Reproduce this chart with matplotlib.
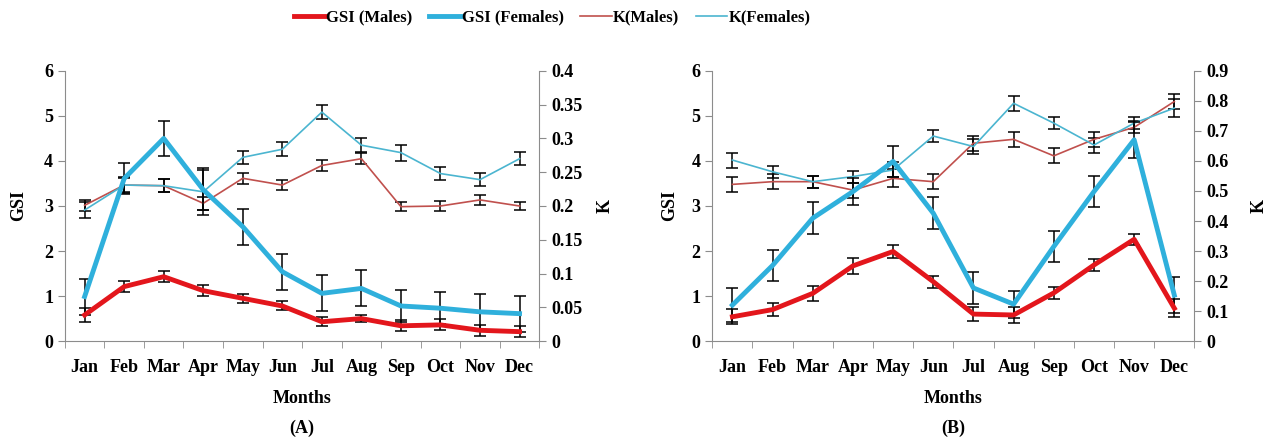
import numpy as np
import matplotlib
matplotlib.use("Agg")
import matplotlib.pyplot as plt
from matplotlib.lines import Line2D

months = ['Jan', 'Feb', 'Mar', 'Apr', 'May', 'Jun', 'Jul', 'Aug', 'Sep', 'Oct', 'Nov', 'Dec']

# Panel A
gsi_m_a = [0.58, 1.21, 1.43, 1.12, 0.95, 0.78, 0.43, 0.50, 0.34, 0.36, 0.24, 0.21]
gsi_m_a_err = [0.15, 0.12, 0.12, 0.12, 0.10, 0.10, 0.10, 0.08, 0.12, 0.12, 0.12, 0.12]
gsi_f_a = [0.99, 3.61, 4.50, 3.36, 2.54, 1.54, 1.06, 1.17, 0.78, 0.73, 0.65, 0.61]
gsi_f_a_err = [0.40, 0.35, 0.38, 0.45, 0.40, 0.40, 0.40, 0.40, 0.35, 0.35, 0.40, 0.40]
k_m_a = [0.201, 0.231, 0.230, 0.204, 0.241, 0.231, 0.260, 0.270, 0.199, 0.200, 0.209, 0.200]
k_m_a_err = [0.008, 0.010, 0.010, 0.010, 0.008, 0.008, 0.008, 0.008, 0.007, 0.007, 0.008, 0.006]
k_f_a = [0.194, 0.231, 0.230, 0.221, 0.272, 0.284, 0.339, 0.290, 0.279, 0.248, 0.239, 0.270]
k_f_a_err = [0.012, 0.012, 0.010, 0.035, 0.010, 0.010, 0.010, 0.010, 0.012, 0.010, 0.010, 0.010]

# Panel B
gsi_m_b = [0.54, 0.70, 1.06, 1.67, 1.99, 1.32, 0.60, 0.58, 1.07, 1.69, 2.26, 0.73]
gsi_m_b_err = [0.17, 0.15, 0.17, 0.17, 0.15, 0.13, 0.15, 0.17, 0.13, 0.13, 0.12, 0.20]
gsi_f_b = [0.80, 1.68, 2.73, 3.32, 3.99, 2.84, 1.18, 0.82, 2.10, 3.32, 4.47, 1.02]
gsi_f_b_err = [0.38, 0.35, 0.35, 0.30, 0.35, 0.35, 0.35, 0.30, 0.35, 0.35, 0.40, 0.40]
k_m_b = [0.522, 0.531, 0.531, 0.503, 0.542, 0.531, 0.659, 0.672, 0.617, 0.672, 0.712, 0.798]
k_m_b_err = [0.025, 0.025, 0.020, 0.025, 0.030, 0.025, 0.025, 0.025, 0.025, 0.025, 0.020, 0.025]
k_f_b = [0.603, 0.564, 0.531, 0.548, 0.570, 0.683, 0.648, 0.792, 0.726, 0.653, 0.726, 0.776]
k_f_b_err = [0.025, 0.020, 0.020, 0.020, 0.025, 0.020, 0.025, 0.025, 0.020, 0.025, 0.020, 0.030]

red = '#e3161c'
blue = '#2fb0dc'
red_thin = '#c0504d'
blue_thin = '#4bb5d0'
axis_gray = '#8c8c8c'

plt.rcParams['font.family'] = 'Liberation Serif'
plt.rcParams['font.weight'] = 'bold'

fig = plt.figure(figsize=(12.72, 4.43), dpi=100)


def panel(rect, gm, gme, gf, gfe, km, kme, kf, kfe, kmax, kstep, kfmt, letter, gpad, kpad):
    ax = fig.add_axes(rect)
    ax2 = ax.twinx()
    x = np.arange(len(months))
    eb = dict(ecolor='black', elinewidth=1.1, capsize=4, capthick=1.1)
    ax2.errorbar(x, km, yerr=kme, color=red_thin, lw=1.2, **eb)
    ax2.errorbar(x, kf, yerr=kfe, color=blue_thin, lw=1.2, **eb)
    ax.errorbar(x, gm, yerr=gme, color=red, lw=3.5, **eb)
    ax.errorbar(x, gf, yerr=gfe, color=blue, lw=3.5, **eb)
    ax.set_zorder(ax2.get_zorder() + 1)
    ax.patch.set_visible(False)

    ax.set_xlim(-0.5, 11.5)
    ax.set_ylim(0, 6)
    ax.set_yticks(range(0, 7))
    ax2.set_ylim(0, kmax)
    kt = np.arange(0, kmax + kstep / 2, kstep)
    ax2.set_yticks(kt)
    ax2.set_yticklabels([kfmt(v) for v in kt])

    ax.set_xticks(x)
    ax.set_xticklabels(months)
    ax.set_xticks(np.arange(-0.5, 12, 1), minor=True)
    ax.tick_params(axis='x', which='major', length=0, labelsize=13, pad=13)
    ax.tick_params(axis='x', which='minor', length=5, color=axis_gray, direction='out')
    ax.tick_params(axis='y', length=5, color=axis_gray, labelsize=13, direction='out')
    ax2.tick_params(axis='y', length=5, color=axis_gray, labelsize=13, direction='out')

    for a in (ax, ax2):
        a.spines['top'].set_visible(False)
        for s in ('left', 'right', 'bottom'):
            a.spines[s].set_color(axis_gray)
    ax.spines['right'].set_visible(False)
    ax2.spines['left'].set_visible(False)
    ax2.spines['bottom'].set_visible(False)

    ax.set_ylabel('GSI', fontsize=13, fontweight='bold', labelpad=gpad)
    ax2.set_ylabel('K', fontsize=13, fontweight='bold', labelpad=kpad)
    ax.set_xlabel('Months', fontsize=13, fontweight='bold', labelpad=10)
    cx = rect[0] + rect[2] / 2
    fig.text(cx, 0.034, letter, ha='center', va='center', fontsize=13, fontweight='bold')
    return ax


def fmt_a(v):
    return '0' if v == 0 else ('%.2f' % v).rstrip('0')


def fmt_b(v):
    return '0' if v == 0 else ('%.1f' % v)


panel([0.051, 0.230, 0.373, 0.610], gsi_m_a, gsi_m_a_err, gsi_f_a, gsi_f_a_err,
      k_m_a, k_m_a_err, k_f_a, k_f_a_err, 0.4, 0.05, fmt_a, '(A)', 12, 10)
panel([0.560, 0.230, 0.379, 0.610], gsi_m_b, gsi_m_b_err, gsi_f_b, gsi_f_b_err,
      k_m_b, k_m_b_err, k_f_b, k_f_b_err, 0.9, 0.1, fmt_b, '(B)', 10, 16)

handles = [Line2D([], [], color=red, lw=3.5), Line2D([], [], color=blue, lw=3.5),
           Line2D([], [], color=red_thin, lw=1.2), Line2D([], [], color=blue_thin, lw=1.2)]
labels = ['GSI (Males)', 'GSI (Females)', 'K(Males)', 'K(Females)']
fig.legend(handles, labels, loc='center', bbox_to_anchor=(0.434, 0.96), ncol=4,
           frameon=False, fontsize=12, handlelength=1.9, handletextpad=0.05, columnspacing=1.0)

fig.savefig('out.png', dpi=100)
